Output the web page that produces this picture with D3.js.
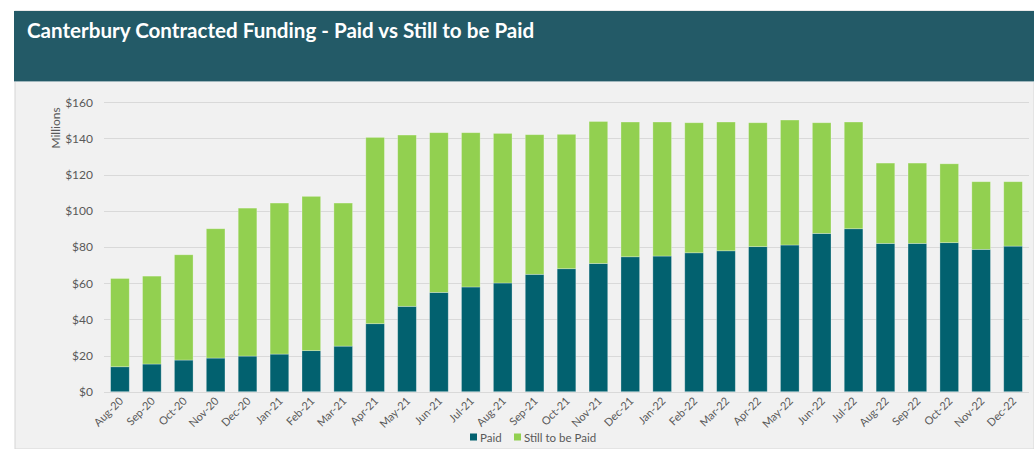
<!DOCTYPE html>
<html>
<head>
<meta charset="utf-8">
<script src="https://cdn.jsdelivr.net/npm/d3@7"></script>
<style>
  body { margin: 0; background: #fff; }
  svg { display: block; font-family: Lato, "Open Sans", sans-serif; }
</style>
</head>
<body>
<svg id="chart" width="1034" height="449"></svg>
<script>
const months = ["Aug-20","Sep-20","Oct-20","Nov-20","Dec-20","Jan-21","Feb-21","Mar-21","Apr-21","May-21","Jun-21","Jul-21","Aug-21","Sep-21","Oct-21","Nov-21","Dec-21","Jan-22","Feb-22","Mar-22","Apr-22","May-22","Jun-22","Jul-22","Aug-22","Sep-22","Oct-22","Nov-22","Dec-22"];
const paid = [13.8,15.3,17.5,18.6,19.7,20.8,22.7,25.2,37.6,47.2,54.9,57.9,60.1,64.9,68.0,70.9,74.6,75.0,76.8,77.9,80.2,81.1,87.5,90.1,82.0,82.0,82.4,78.7,80.5];
const totals = [62.6,63.9,75.7,90.1,101.5,104.3,108.0,104.3,140.6,141.9,143.2,143.2,142.8,142.1,142.3,149.4,149.1,149.1,148.7,149.1,148.7,150.2,148.7,149.1,126.4,126.4,126.0,116.1,116.1];
const yTicks = [0,20,40,60,80,100,120,140,160];
const seriesNames = ["Paid","Still to be Paid"];
const colors = ["#02616f","#92d050"];

const stillToPay = totals.map((t, i) => +(t - paid[i]).toFixed(1));
const rows = months.map((m, i) => ({month: m, paid: paid[i], still: stillToPay[i]}));

const svg = d3.select("#chart");

// panel + header
svg.append("rect").attr("x", 15).attr("y", 11).attr("width", 1019).attr("height", 438)
  .attr("fill", "#f1f1f1").attr("stroke", "#d6d6d6");
svg.append("rect").attr("x", 14).attr("y", 11).attr("width", 1020).attr("height", 70)
  .attr("fill", "#235a67");
svg.append("line").attr("x1", 14).attr("x2", 1034).attr("y1", 81.5).attr("y2", 81.5)
  .attr("stroke", "#9fb6bc").attr("stroke-width", 1);
svg.append("text").attr("x", 27).attr("y", 38)
  .attr("fill", "#fff").attr("font-size", 20.6).attr("font-weight", "bold")
  .text("Canterbury Contracted Funding - Paid vs Still to be Paid");

const plotLeft = 104, plotRight = 1029, plotTop = 102.3, plotBottom = 391.7;

const x = d3.scaleBand().domain(months).range([plotLeft, plotRight]).paddingInner(0.415).paddingOuter(0.2075);
const y = d3.scaleLinear().domain([0, 160]).range([plotBottom, plotTop]);

// gridlines
svg.append("g").selectAll("line").data(yTicks).join("line")
  .attr("x1", plotLeft).attr("x2", plotRight)
  .attr("y1", d => Math.round(y(d)) + 0.5).attr("y2", d => Math.round(y(d)) + 0.5)
  .attr("stroke", "#d9d9d9").attr("stroke-width", 1.2);

// y axis labels
const yAxis = svg.append("g").attr("transform", `translate(${plotLeft},0)`)
  .call(d3.axisLeft(y).tickValues(yTicks).tickSize(0).tickPadding(11).tickFormat(d => "$" + d));
yAxis.select(".domain").remove();
yAxis.selectAll("text").attr("fill", "#595959").attr("font-size", 12).attr("font-family", "Lato, sans-serif");

svg.append("text")
  .attr("transform", "translate(60,128) rotate(-90)")
  .attr("text-anchor", "middle").attr("fill", "#595959").attr("font-size", 12)
  .text("Millions");

// stacked bars
const stack = d3.stack().keys(["paid", "still"])(rows);
svg.append("g").selectAll("g").data(stack).join("g")
  .attr("fill", (d, i) => colors[i])
  .selectAll("rect").data(d => d).join("rect")
  .attr("x", d => x(d.data.month))
  .attr("width", x.bandwidth())
  .attr("y", d => y(d[1]))
  .attr("height", d => y(d[0]) - y(d[1]))
  .attr("stroke", "#ffffff").attr("stroke-opacity", 0.35).attr("stroke-width", 0.8);

// x axis labels
const xAxis = svg.append("g").attr("transform", `translate(0,${plotBottom})`)
  .call(d3.axisBottom(x).tickSize(0).tickPadding(0));
xAxis.select(".domain").remove();
xAxis.selectAll("text")
  .attr("fill", "#595959").attr("font-size", 11).attr("font-family", "Lato, sans-serif")
  .attr("text-anchor", "end")
  .attr("dy", null).attr("y", 0)
  .attr("transform", "translate(4,10) rotate(-45)");

// legend
const legend = svg.append("g").attr("transform", "translate(470,437)");
const legX = [0, 44];
seriesNames.forEach((name, i) => {
  const g = legend.append("g").attr("transform", `translate(${legX[i]},0)`);
  g.append("rect").attr("x", 0).attr("y", -3.5).attr("width", 7).attr("height", 7).attr("fill", colors[i]);
  g.append("text").attr("x", 10).attr("y", 4.5).attr("fill", "#595959").attr("font-size", 11.5).text(name);
});
</script>
</body>
</html>
